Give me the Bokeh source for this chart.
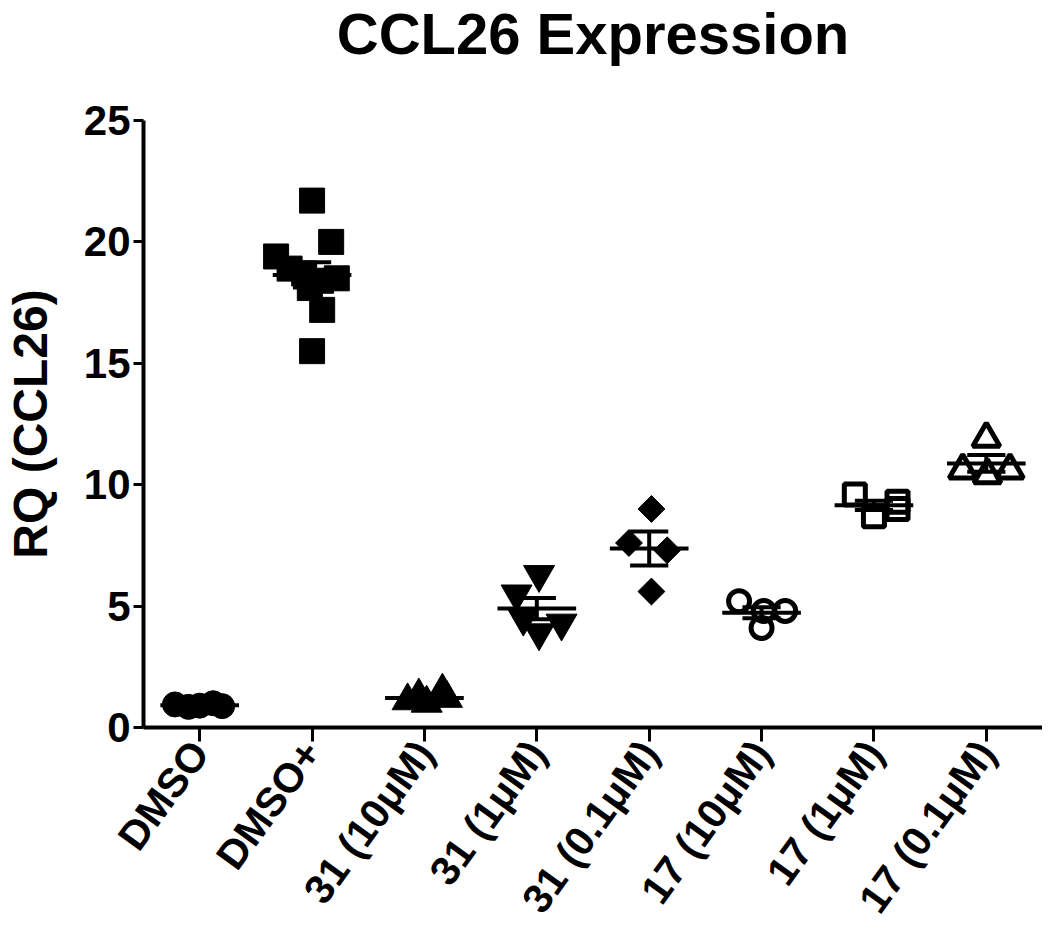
import math
import numpy as np
from bokeh.plotting import figure
from bokeh.models import FixedTicker, Range1d, Title
from bokeh.embed import file_html
from bokeh.resources import INLINE

categories = ["DMSO", "DMSO+", "31 (10\u03bcM)", "31 (1\u03bcM)", "31 (0.1\u03bcM)",
              "17 (10\u03bcM)", "17 (1\u03bcM)", "17 (0.1\u03bcM)"]

dmso_vals = [0.95, 0.85, 0.90, 1.00, 0.88]
dmso_off = [-0.22, -0.10, 0.00, 0.12, 0.20]

dmsop_vals = [21.7, 20.0, 19.4, 18.9, 18.7, 18.4, 18.5, 18.1, 17.2, 15.5]
dmsop_off = [0.00, 0.17, -0.32, -0.20, -0.07, 0.08, 0.22, -0.02, 0.09, 0.00]

c31_10_vals = [1.1, 1.0, 1.2, 1.5, 1.3]
c31_10_off = [-0.15, 0.02, 0.20, 0.16, -0.05]

c31_1_vals = [6.3, 5.5, 4.5, 4.3, 3.9]
c31_1_off = [0.02, -0.18, -0.12, 0.22, 0.02]

c31_01_vals = [9.0, 7.6, 7.3, 5.6]
c31_01_off = [0.02, -0.18, 0.16, 0.02]

c17_10_vals = [5.2, 4.8, 4.1, 4.8]
c17_10_off = [-0.20, 0.21, 0.00, 0.02]

c17_1_vals = [9.6, 9.3, 9.0, 8.7]
c17_1_off = [-0.17, 0.21, 0.21, 0.00]

c17_01_vals = [11.9, 10.6, 10.4, 10.6]
c17_01_off = [0.00, -0.21, 0.01, 0.21]

y_ticks = [0, 5, 10, 15, 20, 25]
title_text = "CCL26 Expression"

groups = [
    (dmso_vals, dmso_off, "circle", True),
    (dmsop_vals, dmsop_off, "square", True),
    (c31_10_vals, c31_10_off, "triangle", True),
    (c31_1_vals, c31_1_off, "inverted_triangle", True),
    (c31_01_vals, c31_01_off, "diamond", True),
    (c17_10_vals, c17_10_off, "circle", False),
    (c17_1_vals, c17_1_off, "square", False),
    (c17_01_vals, c17_01_off, "triangle", False),
]

FONT = "Liberation Sans"

p = figure(width=1042, height=938, output_backend="svg", toolbar_location=None,
           x_range=Range1d(-0.5, 7.5), y_range=Range1d(0, 25),
           min_border_left=140, min_border_right=0, min_border_top=120,
           min_border_bottom=211)
p.outline_line_color = None
p.xgrid.grid_line_color = None
p.ygrid.grid_line_color = None
p.background_fill_color = "white"
p.border_fill_color = "white"

p.title.text = title_text
p.title.align = "center"
p.title.vertical_align = "top"
p.title.text_font = FONT
p.title.text_font_style = "bold"
p.title.text_font_size = "58px"
p.title.text_color = "black"
p.title.standoff = 0

# empty spacer panel between the title and the plot frame
p.add_layout(Title(text=" ", text_font_size="4px", standoff=46), "above")

for i, (vals, offs, mk, filled) in enumerate(groups):
    xs = [i + o for o in offs]
    size = {"circle": 25, "square": 25, "triangle": 31, "inverted_triangle": 31, "diamond": 19}[mk]
    angle = 0.0
    marker = mk
    if mk == "diamond":
        marker = "square"
        angle = math.pi / 4
    if filled:
        p.scatter(xs, vals, marker=marker, size=size, angle=angle,
                  fill_color="black", line_color="black", line_width=1)
    else:
        p.scatter(xs, vals, marker=marker, size=size - 4, angle=angle,
                  fill_color=None, line_color="black", line_width=5)
    arr = np.array(vals)
    m = arr.mean()
    sem = arr.std(ddof=1) / math.sqrt(len(arr))
    p.segment(x0=[i - 0.35], y0=[m], x1=[i + 0.35], y1=[m], line_color="black", line_width=4)
    p.segment(x0=[i], y0=[m - sem], x1=[i], y1=[m + sem], line_color="black", line_width=4)
    p.segment(x0=[i - 0.17, i - 0.17], y0=[m - sem, m + sem], x1=[i + 0.17, i + 0.17],
              y1=[m - sem, m + sem], line_color="black", line_width=4)

for ax in (p.xaxis, p.yaxis):
    ax.axis_line_width = 4
    ax.axis_line_color = "black"
    ax.major_tick_line_width = 3
    ax.major_tick_line_color = "black"
    ax.major_tick_in = 0
    ax.minor_tick_line_color = None
    ax.major_label_text_font = FONT
    ax.major_label_text_font_style = "bold"
    ax.major_label_text_color = "black"

p.yaxis.ticker = FixedTicker(ticks=y_ticks)
p.yaxis.major_tick_out = 10
p.yaxis.major_label_standoff = 3
p.yaxis.major_label_text_font_size = "42px"
p.yaxis.axis_label = "RQ (CCL26)"
p.yaxis.axis_label_text_font = FONT
p.yaxis.axis_label_text_font_style = "bold"
p.yaxis.axis_label_text_font_size = "48px"
p.yaxis.axis_label_text_color = "black"
p.yaxis.axis_label_standoff = 24

p.xaxis.ticker = FixedTicker(ticks=list(range(len(categories))))
p.xaxis.major_label_overrides = {i: c for i, c in enumerate(categories)}
p.xaxis.major_tick_out = 14
p.xaxis.major_label_standoff = 4
p.xaxis.major_label_text_font_size = "41px"
p.xaxis.major_label_orientation = math.radians(54)

open("out.html", "w").write(file_html(p, INLINE))
